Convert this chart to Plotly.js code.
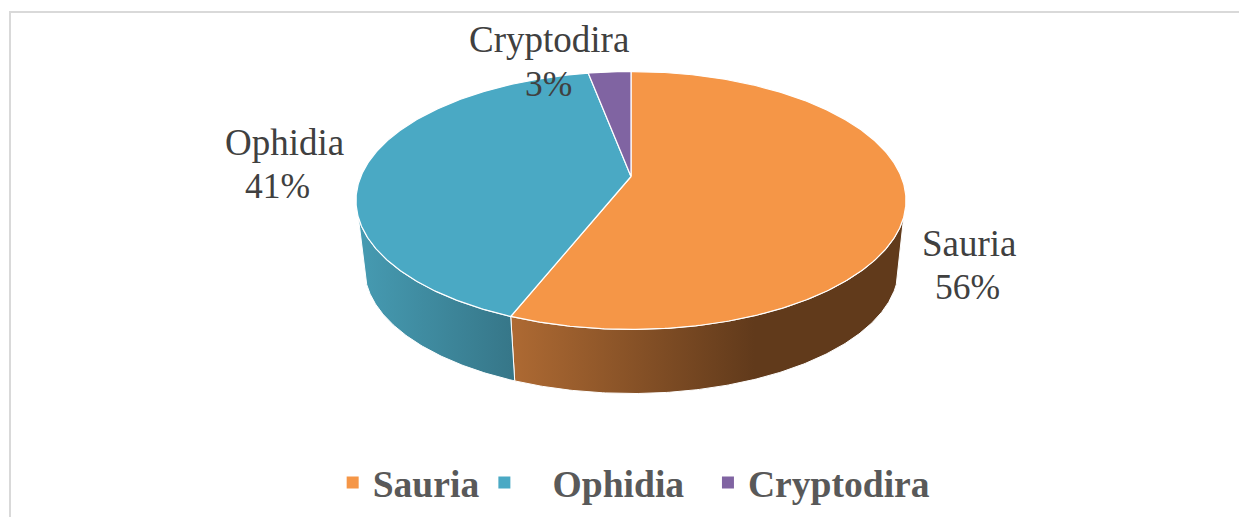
<!DOCTYPE html>
<html>
<head>
<meta charset="utf-8">
<script src="https://cdn.plot.ly/plotly-3.0.1.min.js"></script>
<style>html,body{margin:0;padding:0;background:#fff;overflow:hidden}#c{width:1239px;height:517px}</style>
</head>
<body>
<div id="c"></div>
<script>
var categories = ["Sauria", "Ophidia", "Cryptodira"];
var values = [56, 41, 3];
var sliceColors = ["#F59647", "#4AA9C4", "#8064A2"];
var sideColors = [
  [[0, "#AE6A33"], [0.62, "#613A1B"], [1, "#613A1B"]],
  [[0, "#469BB2"], [1, "#367688"]]
];
var legendLabels = ["Sauria", "\u00A0\u00A0\u00A0Ophidia\u00A0\u00A0", "Cryptodira"];

var total = values.reduce(function (a, b) { return a + b; }, 0);
var W = 1239, H = 517;
var K = 0.186;
var TOP = { cx: 631, cy: 176.5, rx: 270.2, ry: 124.5 };
var BOT = { cx: 631.5, cy: 245, rx: 262.4, ry: 120.9 };

function rim(d, deg) {
  var t = deg * Math.PI / 180, u = Math.sin(t), v = Math.cos(t), w = 1 + K * v;
  return [d.cx + d.rx * u / w, d.cy - d.ry * v / w];
}
function arc(d, a, b) {
  var n = Math.max(2, Math.ceil(Math.abs(b - a) * 2)), out = [];
  for (var i = 0; i <= n; i++) out.push(rim(d, a + (b - a) * i / n));
  return out;
}
function xs(p) { return p.map(function (q) { return q[0]; }); }
function ys(p) { return p.map(function (q) { return q[1]; }); }

var traces = [];
var angles = [0];
values.forEach(function (v, i) { angles.push(angles[i] + v / total * 360); });

// extruded side walls: only the part of the rim facing the viewer
var SIDE_A = 108, SIDE_B = 252;
[0, 1].forEach(function (i) {
  var a = Math.max(angles[i], SIDE_A), b = Math.min(angles[i + 1], SIDE_B);
  var p = arc(TOP, a, b).concat(arc(BOT, b, a));
  p.push(p[0]);
  traces.push({
    type: "scatter", mode: "lines", x: xs(p), y: ys(p), fill: "toself",
    fillgradient: { type: "horizontal", colorscale: i === 0 ? sideColors[0] : sideColors[1] },
    line: { color: "#ffffff", width: 1 }, showlegend: false, hoverinfo: "skip"
  });
});

// top face slices
categories.forEach(function (c, i) {
  var p = [[TOP.cx, TOP.cy]].concat(arc(TOP, angles[i], angles[i + 1]));
  p.push([TOP.cx, TOP.cy]);
  traces.push({
    type: "scatter", mode: "lines", x: xs(p), y: ys(p), fill: "toself",
    fillcolor: sliceColors[i], line: { color: "#ffffff", width: 1.2 },
    name: c, legendgroup: c, showlegend: false, hoverinfo: "name"
  });
});

// legend entries
categories.forEach(function (c, i) {
  traces.push({
    type: "scatter", mode: "markers", x: [null], y: [null], name: legendLabels[i], legendgroup: c,
    marker: { symbol: "square", size: 12, color: sliceColors[i] }
  });
});

// data labels
var labelPos = [[969, 243, 287, 967], [284, 142, 186, 277.5], [549, 39, 84, 548]];
var annotations = [];
var labelFont = { family: "Liberation Serif, Times New Roman, serif", size: 37, color: "#404040" };
categories.forEach(function (c, i) {
  var common = { xref: "x", yref: "y", showarrow: false, xanchor: "center", yanchor: "middle" };
  annotations.push(Object.assign({}, common, { x: labelPos[i][0], y: labelPos[i][1], text: c, font: labelFont }));
  annotations.push(Object.assign({}, common, { x: labelPos[i][3], y: labelPos[i][2],
    text: Math.round(values[i] / total * 100) + "%",
    font: Object.assign({}, labelFont, { size: 35.5 }) }));
});

var frame = { color: "#D9D9D9", width: 2 };
var layout = {
  width: W, height: H,
  margin: { l: 0, r: 0, t: 0, b: 0 },
  paper_bgcolor: "#ffffff", plot_bgcolor: "#ffffff",
  xaxis: { range: [0, W], visible: false, fixedrange: true },
  yaxis: { range: [H, 0], visible: false, fixedrange: true },
  showlegend: true,
  legend: {
    orientation: "h", x: 0.2685, xanchor: "left", y: 0.0665, yanchor: "middle",
    font: { family: "Liberation Serif, Times New Roman, serif", size: 37.6, color: "#595959", weight: 700 },
    itemsizing: "constant", itemwidth: 30, bgcolor: "rgba(0,0,0,0)", traceorder: "normal"
  },
  annotations: annotations,
  shapes: [
    { type: "line", xref: "x", yref: "y", x0: 10, x1: W, y0: 12, y1: 12, line: frame, layer: "below" },
    { type: "line", xref: "x", yref: "y", x0: 10, x1: 10, y0: 11, y1: H, line: frame, layer: "below" }
  ]
};
Plotly.newPlot("c", traces, layout, { displayModeBar: false, staticPlot: true });
</script>
</body>
</html>
